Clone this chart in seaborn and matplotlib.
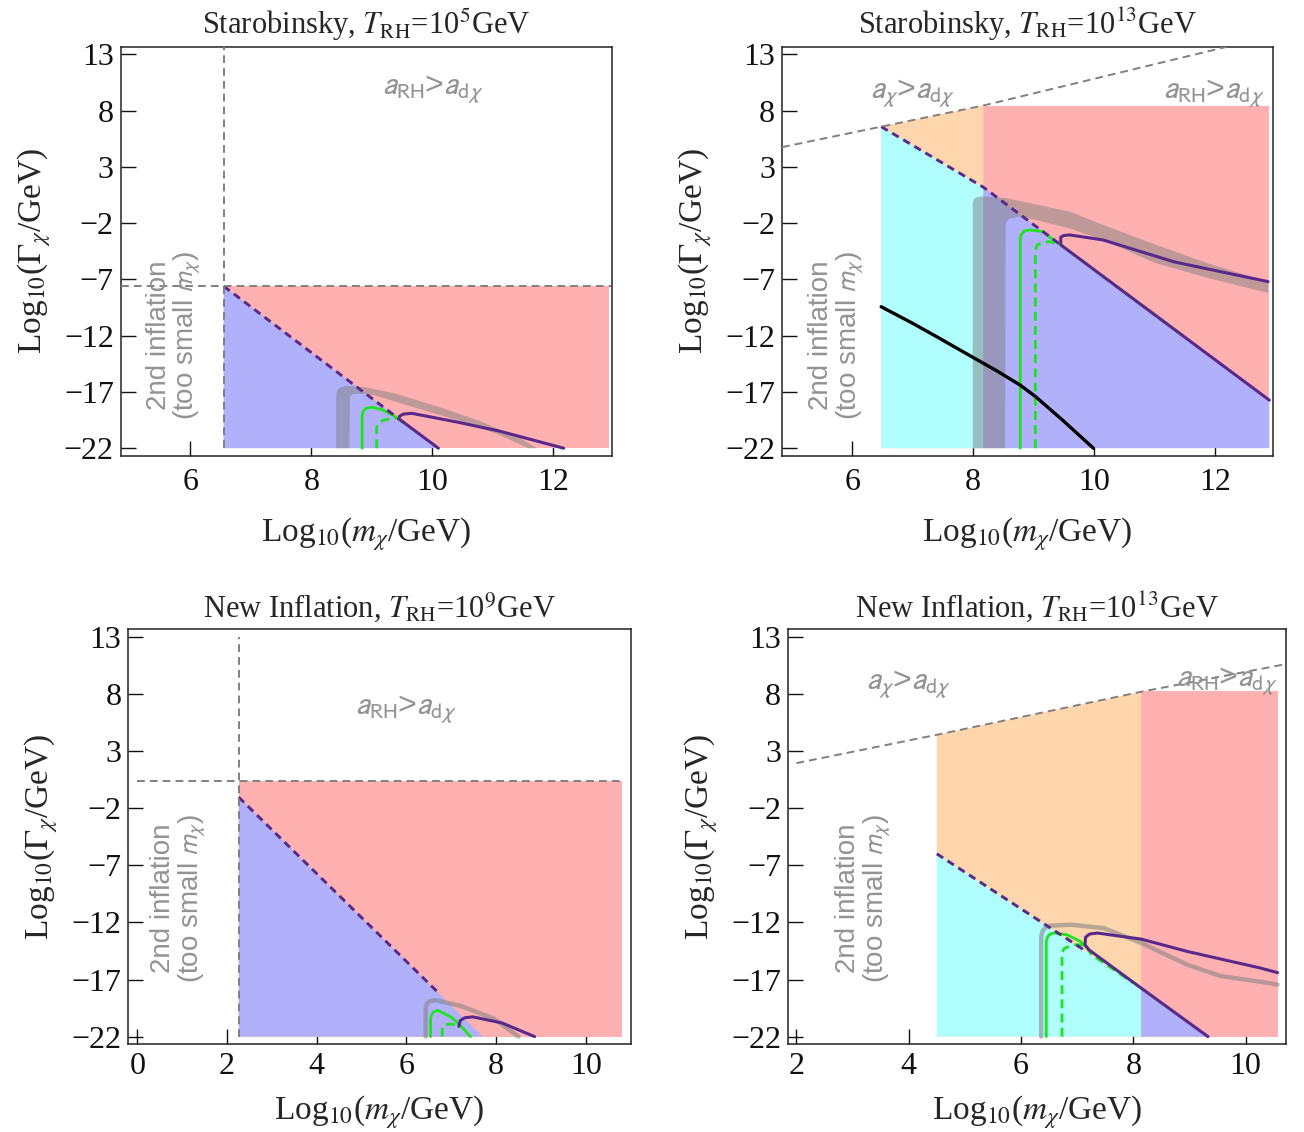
import matplotlib
matplotlib.use("Agg")
import matplotlib.pyplot as plt
import seaborn as sns

sns.set_theme(style="ticks")
plt.rcParams["font.family"] = ["Liberation Serif", "DejaVu Serif"]
plt.rcParams["mathtext.fontset"] = "stix"
plt.rcParams["axes.unicode_minus"] = True

FLOOR = -22.0
YTICKS = [13, 8, 3, -2, -7, -12, -17, -22]

# ---------------- Starobinsky, T_RH = 10^5 GeV ----------------
st5_m_min, st5_m_max, st5_g_top = 6.55, 12.92, -7.6
st5_vline_y = [-22.0, 13.67]
st5_hline_x = [4.85, 12.96]
st5_diag_x = [6.55, 10.1]
st5_diag_y = [-7.6, -22.0]
st5_band_x = [8.41, 8.41, 8.43, 8.48, 8.59, 8.9, 9.39, 10.07, 10.76, 11.45, 11.73,
              11.59, 11.1, 10.42, 9.73, 9.04, 8.8, 8.69, 8.64, 8.63]
st5_band_y = [-22, -17.2, -16.8, -16.6, -16.45, -16.58, -17.15, -18.26, -19.53, -21.1, -22,
              -22, -20.8, -19.53, -18.42, -17.3, -17.15, -17.2, -17.4, -22]
st5_green_x = [8.84, 8.84, 8.86, 8.91, 9.0, 9.18, 9.39, 9.52]
st5_green_y = [-22, -19.1, -18.7, -18.45, -18.35, -18.6, -19.2, -19.75]
st5_greend_x = [9.08, 9.08, 9.12, 9.2, 9.3, 9.42]
st5_greend_y = [-22, -20.1, -19.7, -19.5, -19.4, -19.3]
st5_purple_x = [10.1, 9.45, 9.46, 9.52, 9.66, 10.42, 11.11, 12.17]
st5_purple_y = [-22, -19.4, -19.15, -18.97, -18.9, -19.69, -20.48, -22]
st5_purpled_x = [6.55, 9.45]
st5_purpled_y = [-7.6, -19.4]

# ---------------- Starobinsky, T_RH = 10^13 GeV ----------------
st13_m_min, st13_m_split, st13_m_max, st13_g_top = 6.48, 8.17, 12.9, 8.45
st13_edge_x = [4.84, 6.48, 8.17, 12.2]
st13_edge_y = [4.75, 6.57, 8.45, 13.67]
st13_diag_x = [6.48, 8.17, 12.9]
st13_diag_y = [6.57, 1.19, -17.73]
st13_band_x = [7.995, 7.995, 8.01, 8.06, 8.2, 8.55, 9.21, 9.61, 10.15, 10.99, 11.9, 12.88,
               12.88, 11.9, 10.99, 10.15, 9.61, 9.05, 8.75, 8.6, 8.54, 8.53]
st13_band_y = [-22, -0.3, 0.1, 0.3, 0.38, 0.22, -0.53, -1.0, -2.15, -3.86, -5.6, -7.2,
               -8.2, -6.9, -5.5, -3.5, -2.5, -1.72, -1.45, -1.6, -2.0, -22]
st13_green_x = [8.78, 8.78, 8.8, 8.85, 8.93, 9.15, 9.38]
st13_green_y = [-22, -3.4, -3.0, -2.7, -2.6, -2.75, -3.7]
st13_greend_x = [9.03, 9.03, 9.06, 9.15, 9.27, 9.43]
st13_greend_y = [-22, -4.4, -3.95, -3.75, -3.64, -3.95]
st13_greendiag_x = [9.4, 11.4]
st13_greendiag_y = [-3.75, -11.73]
st13_purple_x = [12.9, 9.45, 9.45, 9.5, 9.6, 10.15, 11.33, 12.88]
st13_purple_y = [-17.73, -3.93, -3.25, -3.1, -3.05, -3.5, -5.45, -7.2]
st13_purpled_x = [6.48, 8.17, 9.45]
st13_purpled_y = [6.57, 1.19, -3.93]
st13_black_x = [6.48, 7.0, 7.4, 7.89, 8.4, 8.78, 9.03, 9.5, 9.99]
st13_black_y = [-9.43, -10.9, -12.1, -13.6, -15.15, -16.4, -17.4, -19.6, -22.0]

# ---------------- New Inflation, T_RH = 10^9 GeV ----------------
ni9_m_min, ni9_m_max, ni9_g_top = 2.26, 10.8, 0.35
ni9_vline_y = [-22.0, 13.0]
ni9_hline_x = [0.0, 10.8]
ni9_diag_x = [2.26, 7.71]
ni9_diag_y = [-1.03, -22.0]
ni9_gray_x = [6.43, 6.43, 6.46, 6.52, 6.64, 7.2, 7.94, 8.5]
ni9_gray_y = [-22, -19.5, -19.1, -18.9, -18.8, -19.3, -20.4, -22]
ni9_green_x = [6.54, 6.54, 6.57, 6.62, 6.7, 7.0, 7.2, 7.43]
ni9_green_y = [-22, -20.4, -20.0, -19.8, -19.7, -20.3, -21.0, -22]
ni9_greend_x = [6.8, 6.8, 6.86, 7.0, 7.1]
ni9_greend_y = [-22, -21.2, -20.95, -20.9, -21.0]
ni9_purple_x = [7.17, 7.2, 7.3, 7.48, 8.13, 8.86]
ni9_purple_y = [-21.1, -20.6, -20.35, -20.27, -20.8, -22]
ni9_purpled_x = [2.26, 6.75]
ni9_purpled_y = [-1.03, -18.3]

# ---------------- New Inflation, T_RH = 10^13 GeV ----------------
ni13_m_min, ni13_m_split, ni13_m_max, ni13_g_top = 4.5, 8.14, 10.57, 8.29
ni13_edge_x = [2.0, 4.5, 8.14, 10.72]
ni13_edge_y = [1.95, 4.43, 8.2, 10.62]
ni13_diag_x = [4.5, 8.14, 9.38]
ni13_diag_y = [-5.99, -17.75, -22.0]
ni13_gray_x = [6.36, 6.36, 6.39, 6.45, 6.52, 6.88, 7.48, 8.14, 8.96, 9.56, 10.27, 10.57]
ni13_gray_y = [-22, -13.2, -12.7, -12.4, -12.29, -12.2, -12.5, -13.8, -15.7, -16.7, -17.2, -17.45]
ni13_green_x = [6.45, 6.45, 6.48, 6.53, 6.58, 6.82, 7.06, 7.21]
ni13_green_y = [-22, -13.6, -13.2, -13.0, -12.93, -13.08, -13.67, -14.4]
ni13_greend_x = [6.73, 6.73, 6.78, 6.94, 7.15, 7.25, 8.0]
ni13_greend_y = [-22, -14.6, -14.25, -13.96, -13.96, -14.8, -17.3]
ni13_purple_x = [9.33, 8.14, 7.21, 7.14, 7.15, 7.22, 7.36, 8.14, 8.96, 10.27, 10.57]
ni13_purple_y = [-22, -17.75, -14.4, -13.96, -13.3, -13.02, -12.93, -13.46, -14.54, -16.0, -16.4]
ni13_purpled_x = [4.5, 7.15]
ni13_purpled_y = [-5.99, -14.5]

PINK, BLUE, CYAN, ORANGE = "#ffb1b1", "#b1b1fb", "#b0fefe", "#fed6ae"
PURPLE, GREEN, GRAY = "#58288a", "#1ee41e", "#808080"
TXT = "#939393"
DASH_GRAY = (0, (4, 2.6))


def line(ax, xs, ys, **kw):
    sns.lineplot(x=xs, y=ys, sort=False, estimator=None, ax=ax, legend=False, **kw)


def gray_dash(ax, xs, ys):
    line(ax, xs, ys, color=GRAY, lw=1.4, linestyle=DASH_GRAY, zorder=6)


def purple(ax, xs, ys, dashed=False):
    if dashed:
        line(ax, xs, ys, color=PURPLE, lw=2.1, linestyle=(0, (2.6, 1.8)), zorder=5)
    else:
        line(ax, xs, ys, color=PURPLE, lw=2.2, zorder=5)


def green(ax, xs, ys, dashed=False):
    if dashed:
        line(ax, xs, ys, color=GREEN, lw=2.0, linestyle=(0, (3.2, 1.9)), zorder=4)
    else:
        line(ax, xs, ys, color=GREEN, lw=2.0, zorder=4)


def label_texts(ax, x2, y2, items):
    ax.text(x2, y2, "2nd inflation\n(too small $m_\\chi$)", rotation=90,
            ha="center", va="center", multialignment="center", color=TXT,
            fontsize=20, family="Liberation Sans", math_fontfamily="stixsans",
            linespacing=1.0, zorder=7)
    for (x, y, s) in items:
        ax.text(x, y, s, ha="center", va="center", color=TXT, fontsize=23,
                family="Liberation Sans", math_fontfamily="stixsans", zorder=7)


def frame(ax, xlim, xticks, title, xpad, labelpad):
    ax.set_xlim(*xlim)
    ax.set_ylim(-22.67, 13.67)
    ax.set_xticks(xticks)
    ax.set_yticks(YTICKS)
    ax.tick_params(direction="in", length=10.5, width=1.0, labelsize=23,
                   top=False, right=False, colors="#111111")
    ax.tick_params(axis="x", pad=xpad)
    ax.tick_params(axis="y", pad=5)
    ax.set_xlabel(r"Log$_{10}$($m_\chi$/GeV)", fontsize=24, labelpad=labelpad)
    ax.set_ylabel(r"Log$_{10}$($\Gamma_\chi$/GeV)", fontsize=24, labelpad=8)
    ax.set_title(title, fontsize=22, pad=9)
    for sp in ax.spines.values():
        sp.set_linewidth(1.1)
        sp.set_color("#222222")


A_RH = r"$a_{\mathrm{RH}}$>$a_{\mathrm{d}\chi}$"
A_CHI = r"$a_{\chi}$>$a_{\mathrm{d}\chi}$"

fig = plt.figure(figsize=(13.04, 11.32), dpi=100)
ax1 = fig.add_axes([0.0926, 0.5974, 0.3765, 0.3613])
ax2 = fig.add_axes([0.5997, 0.5974, 0.3765, 0.3613])
ax3 = fig.add_axes([0.0984, 0.0775, 0.3852, 0.3666])
ax4 = fig.add_axes([0.6043, 0.0775, 0.3819, 0.3666])

# ---- panel 1
ax = ax1
ax.fill([st5_m_min, st5_m_max, st5_m_max, st5_m_min],
        [FLOOR, FLOOR, st5_g_top, st5_g_top], color=PINK, lw=0, zorder=1)
ax.fill(st5_diag_x + [st5_m_min], st5_diag_y + [FLOOR], color=BLUE, lw=0, zorder=1)
ax.fill(st5_band_x, st5_band_y, color=GRAY, alpha=0.5, lw=0, zorder=3)
green(ax, st5_green_x, st5_green_y)
green(ax, st5_greend_x, st5_greend_y, dashed=True)
purple(ax, st5_purple_x, st5_purple_y)
purple(ax, st5_purpled_x, st5_purpled_y, dashed=True)
gray_dash(ax, [st5_m_min, st5_m_min], st5_vline_y)
gray_dash(ax, st5_hline_x, [st5_g_top, st5_g_top])
label_texts(ax, 5.74, -12.0, [(10.0, 9.8, A_RH)])
frame(ax, (4.85, 12.965), [6, 8, 10, 12], r"Starobinsky, $T_{\rm RH}$=10$^{5}$GeV", 9, 13)

# ---- panel 2
ax = ax2
ax.fill([st13_m_split, st13_m_max, st13_m_max, st13_m_split],
        [FLOOR, FLOOR, st13_g_top, st13_g_top], color=PINK, lw=0, zorder=1)
ax.fill([st13_m_min] + st13_edge_x[1:3] + [st13_m_split],
        [FLOOR] + st13_edge_y[1:3] + [FLOOR], color=ORANGE, lw=0, zorder=1)
ax.fill([st13_m_min] + st13_diag_x[:2] + [st13_m_split],
        [FLOOR] + st13_diag_y[:2] + [FLOOR], color=CYAN, lw=0, zorder=2)
ax.fill(st13_diag_x[1:] + [st13_diag_x[-1], st13_m_split],
        st13_diag_y[1:] + [FLOOR, FLOOR], color=BLUE, lw=0, zorder=2)
ax.fill(st13_band_x, st13_band_y, color=GRAY, alpha=0.5, lw=0, zorder=3)
green(ax, st13_green_x, st13_green_y)
green(ax, st13_greend_x, st13_greend_y, dashed=True)
green(ax, st13_greendiag_x, st13_greendiag_y, dashed=True)
purple(ax, st13_purple_x, st13_purple_y)
purple(ax, st13_purpled_x, st13_purpled_y, dashed=True)
line(ax, st13_black_x, st13_black_y, color="black", lw=2.4, zorder=5)
gray_dash(ax, st13_edge_x, st13_edge_y)
label_texts(ax, 5.75, -12.0, [(6.99, 9.5, A_CHI), (11.98, 9.5, A_RH)])
frame(ax, (4.84, 12.96), [6, 8, 10, 12], r"Starobinsky, $T_{\rm RH}$=10$^{13}$GeV", 9, 13)

# ---- panel 3
ax = ax3
ax.fill([ni9_m_min, ni9_m_max, ni9_m_max, ni9_m_min],
        [FLOOR, FLOOR, ni9_g_top, ni9_g_top], color=PINK, lw=0, zorder=1)
ax.fill(ni9_diag_x + [ni9_m_min], ni9_diag_y + [FLOOR], color=BLUE, lw=0, zorder=1)
line(ax, ni9_gray_x, ni9_gray_y, color=GRAY, alpha=0.55, lw=3.2, zorder=3)
green(ax, ni9_green_x, ni9_green_y)
green(ax, ni9_greend_x, ni9_greend_y, dashed=True)
purple(ax, ni9_purple_x, ni9_purple_y)
purple(ax, ni9_purpled_x, ni9_purpled_y, dashed=True)
gray_dash(ax, [ni9_m_min, ni9_m_min], ni9_vline_y)
gray_dash(ax, ni9_hline_x, [ni9_g_top, ni9_g_top])
label_texts(ax, 0.93, -9.9, [(5.98, 6.57, A_RH)])
frame(ax, (-0.2, 11.0), [0, 2, 4, 6, 8, 10], r"New Inflation, $T_{\rm RH}$=10$^{9}$GeV", 5.5, 9)

# ---- panel 4
ax = ax4
ax.fill([ni13_m_split, ni13_m_max, ni13_m_max, ni13_m_split],
        [FLOOR, FLOOR, ni13_g_top, ni13_g_top], color=PINK, lw=0, zorder=1)
ax.fill([ni13_m_min] + ni13_edge_x[1:3] + [ni13_m_split],
        [FLOOR] + ni13_edge_y[1:3] + [FLOOR], color=ORANGE, lw=0, zorder=1)
ax.fill([ni13_m_min] + ni13_diag_x[:2] + [ni13_m_split],
        [FLOOR] + ni13_diag_y[:2] + [FLOOR], color=CYAN, lw=0, zorder=2)
ax.fill(ni13_diag_x[1:] + [ni13_diag_x[-1], ni13_m_split],
        ni13_diag_y[1:] + [FLOOR, FLOOR], color=BLUE, lw=0, zorder=2)
line(ax, ni13_gray_x, ni13_gray_y, color=GRAY, alpha=0.55, lw=3.2, zorder=3)
green(ax, ni13_green_x, ni13_green_y)
green(ax, ni13_greend_x, ni13_greend_y, dashed=True)
purple(ax, ni13_purple_x, ni13_purple_y)
purple(ax, ni13_purpled_x, ni13_purpled_y, dashed=True)
gray_dash(ax, ni13_edge_x, ni13_edge_y)
label_texts(ax, 3.2, -9.9, [(4.0, 8.76, A_CHI), (9.67, 9.07, A_RH)])
frame(ax, (1.85, 10.72), [2, 4, 6, 8, 10], r"New Inflation, $T_{\rm RH}$=10$^{13}$GeV", 5.5, 9)

fig.savefig("out.png", dpi=100)
